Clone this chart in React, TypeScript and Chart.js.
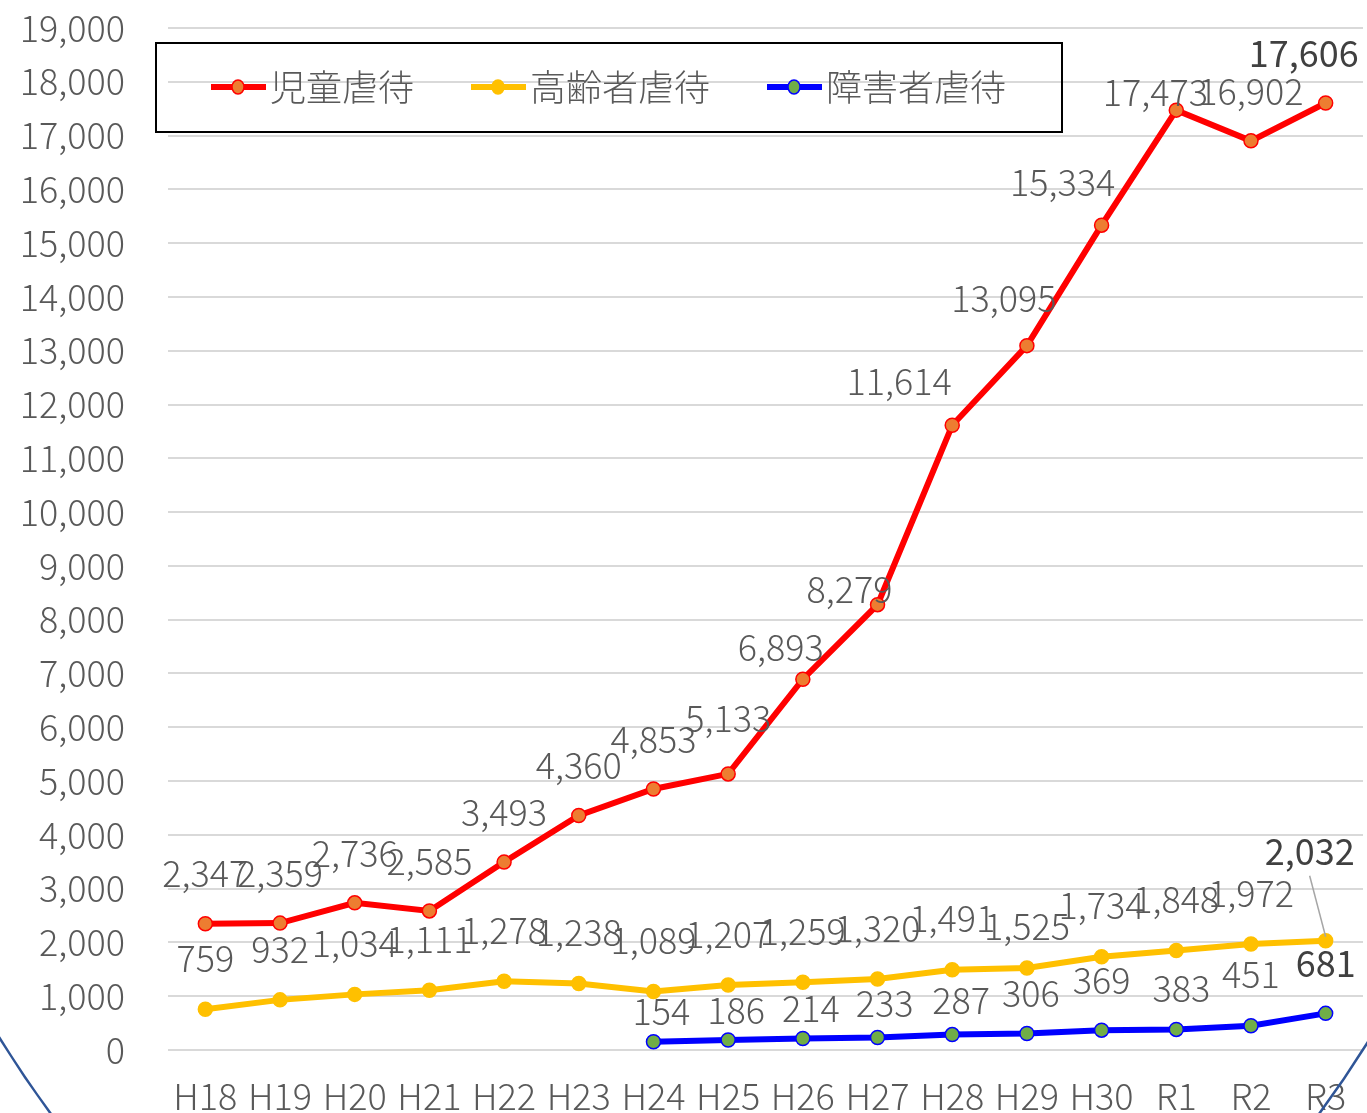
import React, { useEffect, useRef } from 'react';
import { Chart, registerables } from 'chart.js';

Chart.register(...registerables);

const categories = ['H18', 'H19', 'H20', 'H21', 'H22', 'H23', 'H24', 'H25', 'H26', 'H27', 'H28', 'H29', 'H30', 'R1', 'R2', 'R3'];
const childAbuse = [2347, 2359, 2736, 2585, 3493, 4360, 4853, 5133, 6893, 8279, 11614, 13095, 15334, 17473, 16902, 17606];
const elderAbuse = [759, 932, 1034, 1111, 1278, 1238, 1089, 1207, 1259, 1320, 1491, 1525, 1734, 1848, 1972, 2032];
const disabledAbuse = [null, null, null, null, null, null, 154, 186, 214, 233, 287, 306, 369, 383, 451, 681];
const seriesNames = ['児童虐待', '高齢者虐待', '障害者虐待'];
const yMin = 0;
const yMax = 19000;
const yStep = 1000;

const FONT = "'Noto Sans CJK JP', 'Noto Sans', sans-serif";
const TEXT = '#595959';

const fmt = (v: number) => v.toLocaleString('en-US');

// label placement tweaks per dataset: [dx, dy] relative to the point
const labelStyle: any = [
  {
    def: [0, -50],
    nudge: { 7: [0, -56], 8: [-22, -32], 9: [-28, -15], 10: [-53, -44], 11: [-23, -47], 12: [-39, -43], 13: [-21, -18], 15: [-22, -50] },
  },
  {
    def: [0, -51],
    nudge: { 11: [0, -42], 15: [-16, -89] },
  },
  {
    def: [8, -30],
    nudge: { 9: [7, -34], 10: [9, -34], 11: [4, -40], 12: [0, -50], 13: [5, -41], 14: [0, -51], 15: [0, -50] },
  },
];

const labelsPlugin = {
  id: 'valueLabels',
  afterDatasetsDraw(chart: any) {
    const ctx = chart.ctx;
    ctx.save();
    ctx.textAlign = 'center';
    ctx.textBaseline = 'middle';
    chart.data.datasets.forEach((ds: any, di: number) => {
      const meta = chart.getDatasetMeta(di);
      const st = labelStyle[di];
      meta.data.forEach((pt: any, i: number) => {
        const v = ds.data[i];
        if (v == null) return;
        const [dx, dy] = st.nudge[i] || st.def;
        const last = i === ds.data.length - 1;
        const x = pt.x + dx;
        const y = pt.y + dy;
        if (last && di === 1) {
          ctx.strokeStyle = '#A6A6A6';
          ctx.lineWidth = 1.5;
          ctx.beginPath();
          ctx.moveTo(x, y + 24);
          ctx.lineTo(pt.x, pt.y - 4);
          ctx.stroke();
        }
        ctx.fillStyle = last ? '#404040' : TEXT;
        ctx.font = `${last ? 400 : 300} 36px ${FONT}`;
        ctx.fillText(fmt(v), x, y);
      });
    });
    ctx.restore();
  },
};

const overlayPlugin = {
  id: 'overlay',
  afterDraw(chart: any) {
    const ctx = chart.ctx;
    ctx.save();
    // legend box
    ctx.strokeStyle = '#000000';
    ctx.lineWidth = 2;
    ctx.strokeRect(156, 43, 906, 89);
    ctx.font = `300 36px ${FONT}`;
    ctx.textBaseline = 'middle';
    ctx.textAlign = 'left';
    let x = 211;
    const y = 87;
    chart.data.datasets.forEach((ds: any, di: number) => {
      ctx.strokeStyle = ds.borderColor;
      ctx.lineWidth = 6;
      ctx.beginPath();
      ctx.moveTo(x, y);
      ctx.lineTo(x + 55, y);
      ctx.stroke();
      ctx.beginPath();
      ctx.ellipse(x + 27, y, 6, 7, 0, 0, Math.PI * 2);
      ctx.fillStyle = ds.pointBackgroundColor;
      ctx.fill();
      ctx.lineWidth = 1.5;
      ctx.strokeStyle = ds.pointBorderColor;
      ctx.stroke();
      ctx.fillStyle = TEXT;
      const tx = x + 59;
      ctx.fillText(seriesNames[di], tx, y);
      x = tx + ctx.measureText(seriesNames[di]).width + 57;
    });
    // decorative ellipse outline
    ctx.strokeStyle = '#2F5597';
    ctx.lineWidth = 2.5;
    ctx.beginPath();
    ctx.ellipse(685, 300, 884, 1168, 0, 0, Math.PI * 2);
    ctx.stroke();
    ctx.restore();
  },
};

export default function App() {
  const ref = useRef<HTMLCanvasElement>(null);
  useEffect(() => {
    document.body.style.margin = '0';
    document.body.style.overflow = 'hidden';
    const chart = new Chart(ref.current as HTMLCanvasElement, {
      type: 'line',
      data: {
        labels: categories,
        datasets: [
          {
            label: seriesNames[0],
            data: childAbuse,
            borderColor: '#FF0000',
            borderWidth: 6,
            pointRadius: 7,
            pointBackgroundColor: '#ED7D31',
            pointBorderColor: '#FF0000',
            pointBorderWidth: 1.5,
            tension: 0,
          },
          {
            label: seriesNames[1],
            data: elderAbuse,
            borderColor: '#FFC000',
            borderWidth: 6,
            pointRadius: 7,
            pointBackgroundColor: '#FFC000',
            pointBorderColor: '#FFC000',
            pointBorderWidth: 1.5,
            tension: 0,
          },
          {
            label: seriesNames[2],
            data: disabledAbuse,
            borderColor: '#0000FF',
            borderWidth: 6,
            pointRadius: 7,
            pointBackgroundColor: '#70AD47',
            pointBorderColor: '#0000FF',
            pointBorderWidth: 1.5,
            tension: 0,
            spanGaps: false,
          },
        ],
      },
      options: {
        animation: false,
        responsive: false,
        maintainAspectRatio: false,
        layout: { autoPadding: false, padding: { top: 28, right: 4, left: 0, bottom: 0 } },
        plugins: {
          legend: { display: false },
          tooltip: { enabled: false },
        },
        scales: {
          x: {
            offset: true,
            grid: { display: false },
            border: { display: false },
            ticks: {
              color: TEXT,
              font: { family: FONT, size: 36, weight: '300' as any },
              padding: 17,
              maxRotation: 0,
              autoSkip: false,
            },
            afterFit: (s: any) => { s.height = 63; s.paddingLeft = 0; s.paddingRight = 0; },
          },
          y: {
            min: yMin,
            max: yMax,
            grid: { color: '#D9D9D9', lineWidth: 2, drawTicks: false },
            border: { display: false },
            ticks: {
              stepSize: yStep,
              color: TEXT,
              font: { family: FONT, size: 36, weight: '300' as any },
              padding: 43,
              callback: (v: any) => fmt(Number(v)),
            },
            afterFit: (s: any) => { s.width = 168; s.paddingTop = 0; s.paddingBottom = 0; },
          },
        },
      },
      plugins: [labelsPlugin, overlayPlugin],
    });
    return () => chart.destroy();
  }, []);
  return <canvas ref={ref} width={1367} height={1113} style={{ display: 'block' }} />;
}
